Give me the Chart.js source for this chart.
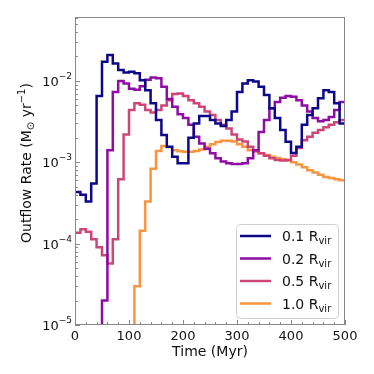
<!DOCTYPE html>
<html>
<head>
<meta charset="utf-8">
<script src="https://cdn.jsdelivr.net/npm/chart.js@4"></script>
<style>
html, body { margin: 0; padding: 0; background: #fff; }
canvas { display: block; }
</style>
</head>
<body>
<canvas id="outflowChart" width="374" height="374"></canvas>
<script>
// left edge of each 10 Myr bin
const binStart = [0, 10, 20, 30, 40, 50, 60, 70, 80, 90,
    100, 110, 120, 130, 140, 150, 160, 170, 180, 190,
    200, 210, 220, 230, 240, 250, 260, 270, 280, 290,
    300, 310, 320, 330, 340, 350, 360, 370, 380, 390,
    400, 410, 420, 430, 440, 450, 460, 470, 480, 490];

// outflow rate (Msun/yr), null = below the plot floor
const rate01 = [4.3e-4, 4.0e-4, 3.3e-4, 5.5e-4, 6.5e-3, 1.72e-2, 2.08e-2, 1.64e-2, 1.36e-2, 1.27e-2,
    1.3e-2, 1.24e-2, 1.02e-2, 7.7e-3, 5.3e-3, 3.3e-3, 2.16e-3, 1.55e-3, 1.17e-3, 9.7e-4,
    9.7e-4, 2.0e-3, 3.0e-3, 3.7e-3, 3.7e-3, 3.3e-3, 3.0e-3, 2.8e-3, 3.3e-3, 4.2e-3,
    7.3e-3, 9.3e-3, 1.02e-2, 9.8e-3, 8.5e-3, 6.7e-3, 4.6e-3, 3.5e-3, 2.5e-3, 1.79e-3,
    1.3e-3, 1.55e-3, 2.9e-3, 3.8e-3, 4.6e-3, 6.1e-3, 7.7e-3, 7.3e-3, 5.3e-3, 3.0e-3];
const rate02 = [null, null, null, null, null, 2.0e-5, 1.41e-3, 7.3e-3, 1.0e-2, 9.3e-3,
    8.0e-3, 7.8e-3, 8.6e-3, 1.03e-2, 1.1e-2, 1.08e-2, 8.5e-3, 6.0e-3, 4.8e-3, 3.9e-3,
    3.5e-3, 2.9e-3, 2.06e-3, 1.7e-3, 1.47e-3, 1.29e-3, 1.12e-3, 1.02e-3, 9.7e-4, 9.5e-4,
    9.5e-4, 9.7e-4, 1.12e-3, 1.41e-3, 2.35e-3, 3.3e-3, 4.6e-3, 5.5e-3, 6.2e-3, 6.5e-3,
    6.4e-3, 5.8e-3, 5.0e-3, 4.2e-3, 3.5e-3, 3.2e-3, 3.3e-3, 3.6e-3, 4.4e-3, 5.5e-3];
const rate05 = [1.36e-4, 1.5e-4, 1.4e-4, 1.13e-4, 9.0e-5, 7.2e-5, 5.7e-5, 1.13e-4, 6.2e-4, 2.2e-3,
    4.4e-3, 5.3e-3, 5.1e-3, 4.4e-3, 4.1e-3, 4.4e-3, 5.0e-3, 5.8e-3, 6.9e-3, 7.0e-3,
    6.5e-3, 5.8e-3, 5.3e-3, 4.8e-3, 4.2e-3, 3.8e-3, 3.3e-3, 2.9e-3, 2.6e-3, 2.2e-3,
    1.9e-3, 1.8e-3, 1.55e-3, 1.41e-3, 1.29e-3, 1.2e-3, 1.12e-3, 1.07e-3, 1.05e-3, 1.07e-3,
    1.2e-3, 1.5e-3, 1.87e-3, 2.06e-3, 2.3e-3, 2.5e-3, 2.7e-3, 2.9e-3, 3.1e-3, 3.3e-3];
const rate10 = [null, null, null, null, null, null, null, null, null, null,
    null, 3.0e-5, 1.44e-4, 3.3e-4, 8.3e-4, 1.38e-3, 1.58e-3, 1.53e-3, 1.41e-3, 1.37e-3,
    1.35e-3, 1.35e-3, 1.38e-3, 1.44e-3, 1.55e-3, 1.67e-3, 1.78e-3, 1.84e-3, 1.84e-3, 1.8e-3,
    1.67e-3, 1.55e-3, 1.41e-3, 1.35e-3, 1.29e-3, 1.23e-3, 1.17e-3, 1.13e-3, 1.09e-3, 1.05e-3,
    1.0e-3, 9.4e-4, 8.7e-4, 8.0e-4, 7.5e-4, 7.0e-4, 6.6e-4, 6.4e-4, 6.2e-4, 6.0e-4];

const radii = ['0.1', '0.2', '0.5', '1.0'];
const colors = ['#0d0887', '#8e0ca4', '#cc4778', '#f89540'];
const xTicks = [0, 100, 200, 300, 400, 500];
const yPowers = [-5, -4, -3, -2];

const FLOOR = 1e-7;
const FONT = '"DejaVu Sans", sans-serif';

function toPoints(values) {
    let pts = binStart.map((t, i) => ({ x: t, y: values[i] === null ? FLOOR : values[i] }));
    pts.push({ x: 500, y: pts[pts.length - 1].y });
    return pts;
}

// mixed size text: parts = [[text, size, dy], ...]
function drawParts(ctx, parts, x, y, align) {
    let w = 0;
    parts.forEach(p => { ctx.font = p[1] + 'px ' + FONT; w += ctx.measureText(p[0]).width; });
    let cx = align === 'right' ? x - w : align === 'center' ? x - w / 2 : x;
    ctx.textAlign = 'left';
    ctx.textBaseline = 'alphabetic';
    parts.forEach(p => {
        ctx.font = p[1] + 'px ' + FONT;
        ctx.fillText(p[0], cx, y + p[2]);
        cx += ctx.measureText(p[0]).width;
    });
}

const axisDecor = {
    id: 'axisDecor',
    afterDraw(chart) {
        const ctx = chart.ctx;
        const a = chart.chartArea;
        const x = chart.scales.x, y = chart.scales.y;
        ctx.save();

        ctx.strokeStyle = '#888';
        ctx.lineWidth = 1;
        ctx.strokeRect(a.left + 0.5, a.top + 0.5, a.right - a.left - 1, a.bottom - a.top - 1);

        // inward ticks
        ctx.beginPath();
        for (let t = 0; t <= 500; t += 20) {
            let px = Math.round(x.getPixelForValue(t)) + 0.5;
            let len = t % 100 === 0 ? 5 : 3;
            ctx.moveTo(px, a.bottom);
            ctx.lineTo(px, a.bottom - len);
        }
        yPowers.forEach(p => {
            for (let m = 1; m <= 9; m++) {
                let v = m * Math.pow(10, p);
                if (v > y.max) break;
                let py = Math.round(y.getPixelForValue(v)) + 0.5;
                let len = m === 1 ? 5 : 3;
                ctx.moveTo(a.left, py);
                ctx.lineTo(a.left + len, py);
            }
        });
        ctx.stroke();

        ctx.fillStyle = '#111';
        ctx.font = '13px ' + FONT;
        ctx.textAlign = 'center';
        ctx.textBaseline = 'alphabetic';
        xTicks.forEach(t => ctx.fillText(String(t), x.getPixelForValue(t), a.bottom + 15));

        yPowers.forEach(p => {
            let py = y.getPixelForValue(Math.pow(10, p));
            drawParts(ctx, [['10', 13, 0], ['\u2212' + Math.abs(p), 9, -7]], a.left - 3, py + 5, 'right');
        });

        ctx.font = '14px ' + FONT;
        ctx.textAlign = 'center';
        ctx.fillText('Time (Myr)', (a.left + a.right) / 2, a.bottom + 31);

        ctx.save();
        ctx.translate(26, 163);
        ctx.rotate(-Math.PI / 2);
        drawParts(ctx, [['Outflow Rate (M', 14, 0], ['\u2299', 10, 3], [' yr', 14, 0], ['\u22121', 10, -6], [')', 14, 0]], 0, 5, 'center');
        ctx.restore();

        // legend
        const lx = 236, ly = 224, lw = 102, lh = 94;
        ctx.beginPath();
        ctx.roundRect(lx + 0.5, ly + 0.5, lw, lh, 4);
        ctx.fillStyle = 'rgba(255,255,255,0.8)';
        ctx.fill();
        ctx.strokeStyle = '#d0d0d0';
        ctx.stroke();
        radii.forEach((r, i) => {
            let ry = ly + 12 + i * 22.5;
            ctx.strokeStyle = colors[i];
            ctx.lineWidth = 2.5;
            ctx.beginPath();
            ctx.moveTo(240, ry);
            ctx.lineTo(271, ry);
            ctx.stroke();
            ctx.fillStyle = '#111';
            drawParts(ctx, [[r + ' R', 14, 0], ['vir', 10, 3]], 282, ry + 5, 'left');
        });
        ctx.restore();
    }
};

const ctx = document.getElementById('outflowChart').getContext('2d');
new Chart(ctx, {
    type: 'line',
    data: {
        datasets: [rate01, rate02, rate05, rate10].map((vals, i) => ({
            label: radii[i] + ' Rvir',
            data: toPoints(vals),
            borderColor: colors[i],
            borderWidth: 2.5,
            stepped: 'before',
            pointRadius: 0,
            fill: false,
            clip: 0
        }))
    },
    options: {
        responsive: false,
        animation: false,
        devicePixelRatio: 1,
        layout: { padding: { left: 75, right: 29, top: 17, bottom: 49 } },
        plugins: { legend: { display: false }, tooltip: { enabled: false } },
        scales: {
            x: { type: 'linear', min: 0, max: 500, display: false },
            y: { type: 'logarithmic', min: 1e-5, max: 0.061, display: false }
        }
    }
    ,
    plugins: [axisDecor]
});
</script>
</body>
</html>
